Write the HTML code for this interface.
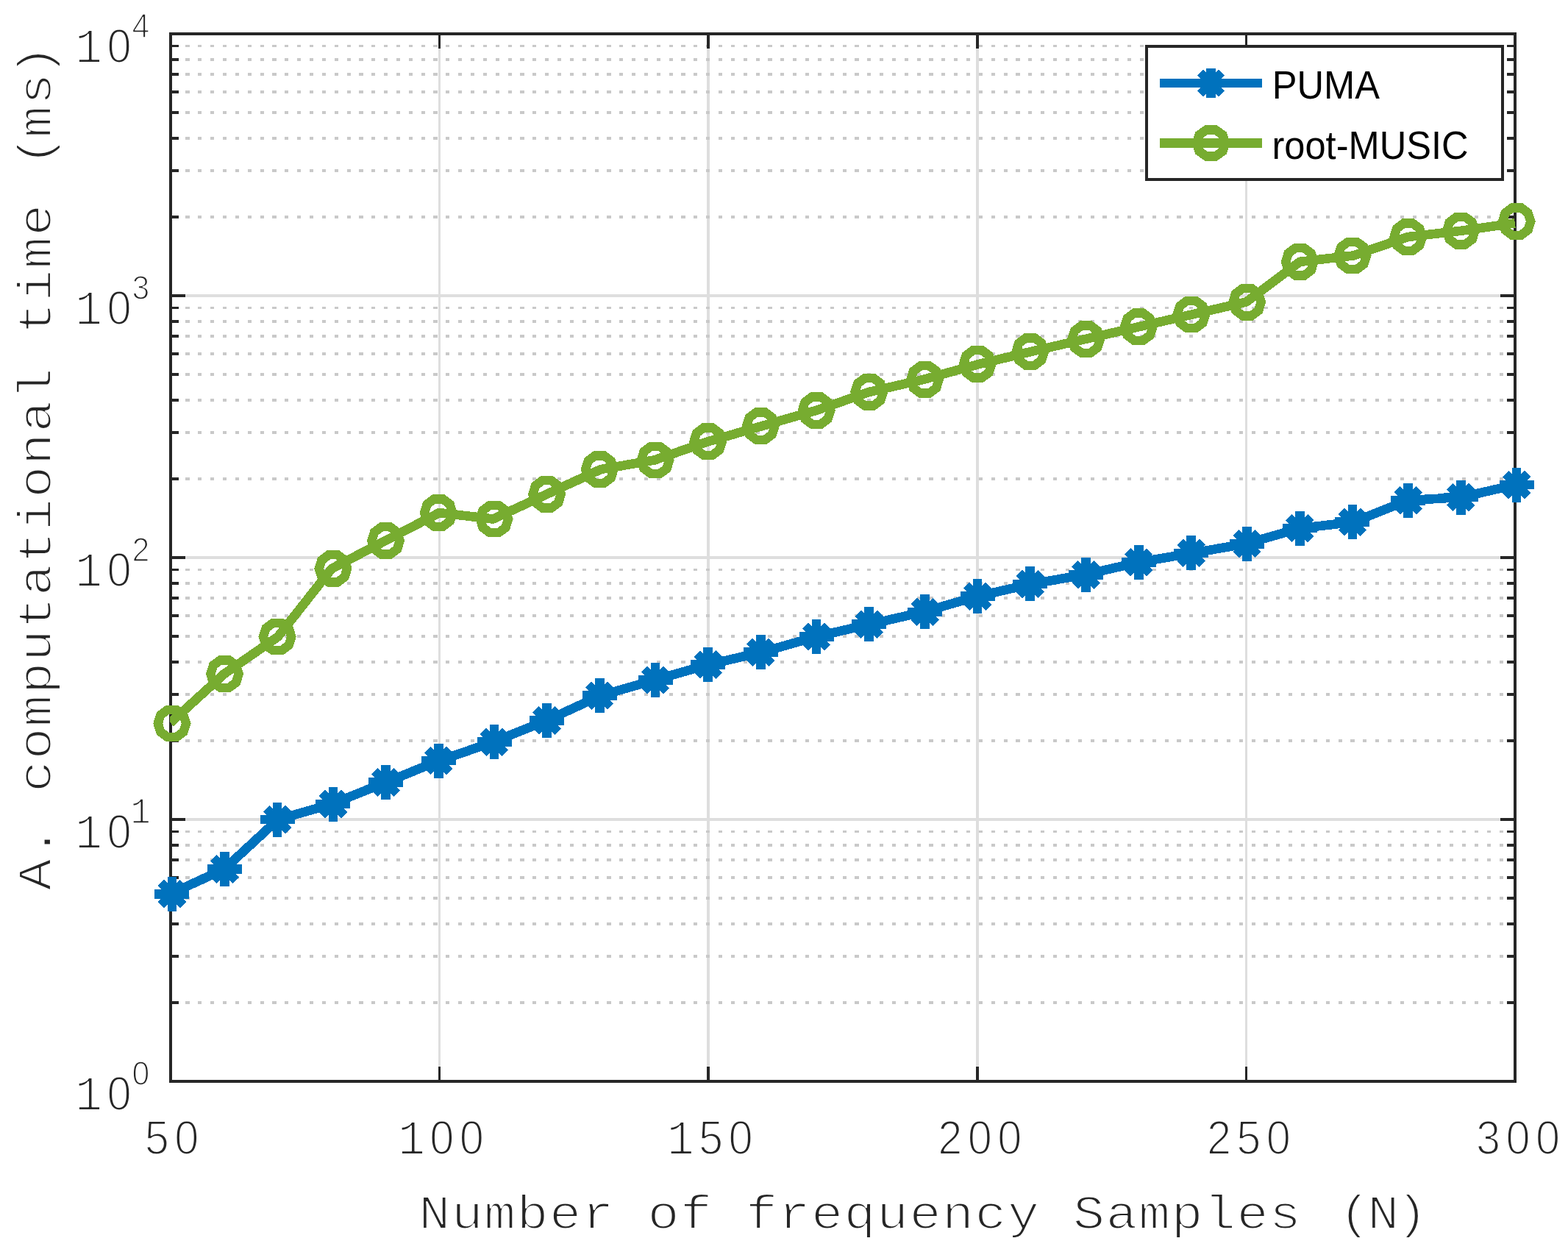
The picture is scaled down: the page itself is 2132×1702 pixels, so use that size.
<!DOCTYPE html>
<html lang="en"><head><meta charset="utf-8"><title>Computational time vs number of frequency samples</title>
<style>
html,body{margin:0;padding:0;background:#fff}
body{width:2132px;height:1702px;overflow:hidden}
svg{display:block}
.lab{fill:#262626;stroke:#fff;stroke-linejoin:round}
.m{font-family:"Liberation Mono","DejaVu Sans Mono",monospace}
.s{font-family:"Liberation Sans","DejaVu Sans",sans-serif}
.leg{font-family:"Liberation Sans","DejaVu Sans",sans-serif;fill:#000}
</style></head><body>
<svg width="2132" height="1702" viewBox="0 0 2132 1702">
<rect width="2132" height="1702" fill="#fff"/>
<g fill="#DEDEDE" shape-rendering="crispEdges">
<rect x="234" y="1112" width="1824" height="4"/>
<rect x="234" y="756" width="1824" height="4"/>
<rect x="234" y="400" width="1824" height="4"/>
<rect x="596" y="48" width="3" height="1420"/>
<rect x="961" y="48" width="4" height="1420"/>
<rect x="1327" y="48" width="4" height="1420"/>
<rect x="1693" y="48" width="3" height="1420"/>
</g>
<g stroke="#C9C9C9" stroke-width="3.8" stroke-dasharray="5.15 11.7" fill="none" shape-rendering="crispEdges">
<line x1="235.6" y1="1363.03" x2="2058" y2="1363.03"/>
<line x1="235.6" y1="1300.34" x2="2058" y2="1300.34"/>
<line x1="235.6" y1="1255.87" x2="2058" y2="1255.87"/>
<line x1="235.6" y1="1221.37" x2="2058" y2="1221.37"/>
<line x1="235.6" y1="1193.18" x2="2058" y2="1193.18"/>
<line x1="235.6" y1="1169.35" x2="2058" y2="1169.35"/>
<line x1="235.6" y1="1148.70" x2="2058" y2="1148.70"/>
<line x1="235.6" y1="1130.49" x2="2058" y2="1130.49"/>
<line x1="235.6" y1="1007.03" x2="2058" y2="1007.03"/>
<line x1="235.6" y1="944.34" x2="2058" y2="944.34"/>
<line x1="235.6" y1="899.87" x2="2058" y2="899.87"/>
<line x1="235.6" y1="865.37" x2="2058" y2="865.37"/>
<line x1="235.6" y1="837.18" x2="2058" y2="837.18"/>
<line x1="235.6" y1="813.35" x2="2058" y2="813.35"/>
<line x1="235.6" y1="792.70" x2="2058" y2="792.70"/>
<line x1="235.6" y1="774.49" x2="2058" y2="774.49"/>
<line x1="235.6" y1="651.03" x2="2058" y2="651.03"/>
<line x1="235.6" y1="588.34" x2="2058" y2="588.34"/>
<line x1="235.6" y1="543.87" x2="2058" y2="543.87"/>
<line x1="235.6" y1="509.37" x2="2058" y2="509.37"/>
<line x1="235.6" y1="481.18" x2="2058" y2="481.18"/>
<line x1="235.6" y1="457.35" x2="2058" y2="457.35"/>
<line x1="235.6" y1="436.70" x2="2058" y2="436.70"/>
<line x1="235.6" y1="418.49" x2="2058" y2="418.49"/>
<line x1="235.6" y1="295.03" x2="2058" y2="295.03"/>
<line x1="235.6" y1="232.34" x2="2058" y2="232.34"/>
<line x1="235.6" y1="187.87" x2="2058" y2="187.87"/>
<line x1="235.6" y1="153.37" x2="2058" y2="153.37"/>
<line x1="235.6" y1="125.18" x2="2058" y2="125.18"/>
<line x1="235.6" y1="101.35" x2="2058" y2="101.35"/>
<line x1="235.6" y1="80.70" x2="2058" y2="80.70"/>
<line x1="235.6" y1="62.49" x2="2058" y2="62.49"/>
</g>
<g fill="#262626" shape-rendering="crispEdges">
<rect x="596" y="1450" width="3" height="18"/>
<rect x="596" y="48" width="3" height="18"/>
<rect x="961" y="1450" width="4" height="18"/>
<rect x="961" y="48" width="4" height="18"/>
<rect x="1327" y="1450" width="4" height="18"/>
<rect x="1327" y="48" width="4" height="18"/>
<rect x="1693" y="1450" width="3" height="18"/>
<rect x="1693" y="48" width="3" height="18"/>
<rect x="234" y="1361" width="9" height="4"/>
<rect x="2049" y="1361" width="9" height="4"/>
<rect x="234" y="1298" width="9" height="4"/>
<rect x="2049" y="1298" width="9" height="4"/>
<rect x="234" y="1254" width="9" height="4"/>
<rect x="2049" y="1254" width="9" height="4"/>
<rect x="234" y="1219" width="9" height="4"/>
<rect x="2049" y="1219" width="9" height="4"/>
<rect x="234" y="1191" width="9" height="4"/>
<rect x="2049" y="1191" width="9" height="4"/>
<rect x="234" y="1167" width="9" height="4"/>
<rect x="2049" y="1167" width="9" height="4"/>
<rect x="234" y="1147" width="9" height="4"/>
<rect x="2049" y="1147" width="9" height="4"/>
<rect x="234" y="1129" width="9" height="3"/>
<rect x="2049" y="1129" width="9" height="3"/>
<rect x="234" y="1112" width="18" height="4"/>
<rect x="2040" y="1112" width="18" height="4"/>
<rect x="234" y="1005" width="9" height="4"/>
<rect x="2049" y="1005" width="9" height="4"/>
<rect x="234" y="942" width="9" height="4"/>
<rect x="2049" y="942" width="9" height="4"/>
<rect x="234" y="898" width="9" height="4"/>
<rect x="2049" y="898" width="9" height="4"/>
<rect x="234" y="863" width="9" height="4"/>
<rect x="2049" y="863" width="9" height="4"/>
<rect x="234" y="835" width="9" height="4"/>
<rect x="2049" y="835" width="9" height="4"/>
<rect x="234" y="811" width="9" height="4"/>
<rect x="2049" y="811" width="9" height="4"/>
<rect x="234" y="791" width="9" height="4"/>
<rect x="2049" y="791" width="9" height="4"/>
<rect x="234" y="773" width="9" height="3"/>
<rect x="2049" y="773" width="9" height="3"/>
<rect x="234" y="756" width="18" height="4"/>
<rect x="2040" y="756" width="18" height="4"/>
<rect x="234" y="649" width="9" height="4"/>
<rect x="2049" y="649" width="9" height="4"/>
<rect x="234" y="586" width="9" height="4"/>
<rect x="2049" y="586" width="9" height="4"/>
<rect x="234" y="542" width="9" height="4"/>
<rect x="2049" y="542" width="9" height="4"/>
<rect x="234" y="507" width="9" height="4"/>
<rect x="2049" y="507" width="9" height="4"/>
<rect x="234" y="479" width="9" height="4"/>
<rect x="2049" y="479" width="9" height="4"/>
<rect x="234" y="455" width="9" height="4"/>
<rect x="2049" y="455" width="9" height="4"/>
<rect x="234" y="435" width="9" height="4"/>
<rect x="2049" y="435" width="9" height="4"/>
<rect x="234" y="417" width="9" height="3"/>
<rect x="2049" y="417" width="9" height="3"/>
<rect x="234" y="400" width="18" height="4"/>
<rect x="2040" y="400" width="18" height="4"/>
<rect x="234" y="293" width="9" height="4"/>
<rect x="2049" y="293" width="9" height="4"/>
<rect x="234" y="230" width="9" height="4"/>
<rect x="2049" y="230" width="9" height="4"/>
<rect x="234" y="186" width="9" height="4"/>
<rect x="2049" y="186" width="9" height="4"/>
<rect x="234" y="151" width="9" height="4"/>
<rect x="2049" y="151" width="9" height="4"/>
<rect x="234" y="123" width="9" height="4"/>
<rect x="2049" y="123" width="9" height="4"/>
<rect x="234" y="99" width="9" height="4"/>
<rect x="2049" y="99" width="9" height="4"/>
<rect x="234" y="79" width="9" height="4"/>
<rect x="2049" y="79" width="9" height="4"/>
<rect x="234" y="61" width="9" height="3"/>
<rect x="2049" y="61" width="9" height="3"/>
</g>
<rect x="232" y="46" width="1828" height="1424" fill="none" stroke="#262626" stroke-width="4" shape-rendering="crispEdges"/>
<clipPath id="axclip"><rect x="231" y="46" width="1830" height="1424"/></clipPath>
<g shape-rendering="crispEdges">
<polyline points="231.70,1215.20 304.83,1181.50 377.96,1114.10 451.08,1093.04 524.21,1063.55 597.34,1034.06 670.47,1008.79 743.60,979.30 816.72,945.60 889.85,924.54 962.98,903.48 1036.11,886.63 1109.24,865.56 1182.36,848.71 1255.49,831.86 1328.62,810.80 1401.75,793.95 1474.88,781.31 1548.00,764.46 1621.13,751.83 1694.26,739.19 1767.39,718.13 1840.52,709.70 1913.64,680.21 1986.77,676.00 2059.90,659.15" fill="none" stroke="#0072BD" stroke-width="12.64" stroke-linejoin="round" stroke-linecap="butt" clip-path="url(#axclip)"/>
<g stroke="#0072BD" fill="none" stroke-linecap="butt">
<path d="M210.40 1215.20H257.40M233.90 1191.70V1238.70" stroke-width="12.64"/><path d="M218.84 1200.14L248.96 1230.26M218.84 1230.26L248.96 1200.14" stroke-width="11.80"/>
<path d="M282.01 1181.50H329.01M305.51 1158.00V1205.00" stroke-width="12.64"/><path d="M290.45 1166.44L320.57 1196.56M290.45 1196.56L320.57 1166.44" stroke-width="11.80"/>
<path d="M353.62 1114.10H400.62M377.12 1090.60V1137.60" stroke-width="12.64"/><path d="M362.06 1099.04L392.19 1129.16M362.06 1129.16L392.19 1099.04" stroke-width="11.80"/>
<path d="M429.45 1093.04H476.45M452.95 1069.54V1116.54" stroke-width="12.64"/><path d="M437.89 1077.98L468.01 1108.10M437.89 1108.10L468.01 1077.98" stroke-width="11.80"/>
<path d="M501.06 1063.55H548.06M524.56 1040.05V1087.05" stroke-width="12.64"/><path d="M509.50 1048.49L539.62 1078.61M509.50 1078.61L539.62 1048.49" stroke-width="11.80"/>
<path d="M572.68 1034.06H619.68M596.18 1010.56V1057.56" stroke-width="12.64"/><path d="M581.11 1019.00L611.24 1049.12M581.11 1049.12L611.24 1019.00" stroke-width="11.80"/>
<path d="M648.50 1008.79H695.50M672.00 985.29V1032.29" stroke-width="12.64"/><path d="M656.94 993.73L687.06 1023.85M656.94 1023.85L687.06 993.73" stroke-width="11.80"/>
<path d="M720.11 979.30H767.11M743.61 955.80V1002.80" stroke-width="12.64"/><path d="M728.55 964.24L758.67 994.36M728.55 994.36L758.67 964.24" stroke-width="11.80"/>
<path d="M791.73 945.60H838.73M815.23 922.10V969.10" stroke-width="12.64"/><path d="M800.16 930.54L830.29 960.66M800.16 960.66L830.29 930.54" stroke-width="11.80"/>
<path d="M867.55 924.54H914.55M891.05 901.04V948.04" stroke-width="12.64"/><path d="M875.99 909.48L906.11 939.60M875.99 939.60L906.11 909.48" stroke-width="11.80"/>
<path d="M939.16 903.48H986.16M962.66 879.98V926.98" stroke-width="12.64"/><path d="M947.60 888.41L977.72 918.54M947.60 918.54L977.72 888.41" stroke-width="11.80"/>
<path d="M1010.78 886.63H1057.78M1034.28 863.13V910.13" stroke-width="12.64"/><path d="M1019.21 871.56L1049.34 901.69M1019.21 901.69L1049.34 871.56" stroke-width="11.80"/>
<path d="M1086.60 865.56H1133.60M1110.10 842.06V889.06" stroke-width="12.64"/><path d="M1095.04 850.50L1125.16 880.62M1095.04 880.62L1125.16 850.50" stroke-width="11.80"/>
<path d="M1158.21 848.71H1205.21M1181.71 825.21V872.21" stroke-width="12.64"/><path d="M1166.65 833.65L1196.77 863.77M1166.65 863.77L1196.77 833.65" stroke-width="11.80"/>
<path d="M1234.04 831.86H1281.04M1257.54 808.36V855.36" stroke-width="12.64"/><path d="M1242.48 816.80L1272.60 846.92M1242.48 846.92L1272.60 816.80" stroke-width="11.80"/>
<path d="M1305.65 810.80H1352.65M1329.15 787.30V834.30" stroke-width="12.64"/><path d="M1314.09 795.74L1344.21 825.86M1314.09 825.86L1344.21 795.74" stroke-width="11.80"/>
<path d="M1377.26 793.95H1424.26M1400.76 770.45V817.45" stroke-width="12.64"/><path d="M1385.70 778.89L1415.82 809.01M1385.70 809.01L1415.82 778.89" stroke-width="11.80"/>
<path d="M1453.09 781.31H1500.09M1476.59 757.81V804.81" stroke-width="12.64"/><path d="M1461.53 766.25L1491.65 796.37M1461.53 796.37L1491.65 766.25" stroke-width="11.80"/>
<path d="M1524.70 764.46H1571.70M1548.20 740.96V787.96" stroke-width="12.64"/><path d="M1533.14 749.40L1563.26 779.52M1533.14 779.52L1563.26 749.40" stroke-width="11.80"/>
<path d="M1596.31 751.83H1643.31M1619.81 728.33V775.33" stroke-width="12.64"/><path d="M1604.75 736.76L1634.87 766.89M1604.75 766.89L1634.87 736.76" stroke-width="11.80"/>
<path d="M1672.14 739.19H1719.14M1695.64 715.69V762.69" stroke-width="12.64"/><path d="M1680.58 724.13L1710.70 754.25M1680.58 754.25L1710.70 724.13" stroke-width="11.80"/>
<path d="M1743.75 718.13H1790.75M1767.25 694.63V741.63" stroke-width="12.64"/><path d="M1752.19 703.06L1782.31 733.19M1752.19 733.19L1782.31 703.06" stroke-width="11.80"/>
<path d="M1815.36 709.70H1862.36M1838.86 686.20V733.20" stroke-width="12.64"/><path d="M1823.80 694.64L1853.92 724.76M1823.80 724.76L1853.92 694.64" stroke-width="11.80"/>
<path d="M1891.19 680.21H1938.19M1914.69 656.71V703.71" stroke-width="12.64"/><path d="M1899.63 665.15L1929.75 695.27M1899.63 695.27L1929.75 665.15" stroke-width="11.80"/>
<path d="M1962.80 676.00H2009.80M1986.30 652.50V699.50" stroke-width="12.64"/><path d="M1971.24 660.94L2001.36 691.06M1971.24 691.06L2001.36 660.94" stroke-width="11.80"/>
<path d="M2038.62 659.15H2085.62M2062.12 635.65V682.65" stroke-width="12.64"/><path d="M2047.06 644.09L2077.19 674.21M2047.06 674.21L2077.19 644.09" stroke-width="11.80"/>
</g>
<polyline points="231.70,982.51 304.83,916.11 377.96,865.56 451.08,772.89 524.21,734.98 597.34,697.06 670.47,705.49 743.60,671.79 816.72,638.09 889.85,625.45 962.98,600.18 1036.11,579.11 1109.24,558.05 1182.36,532.78 1255.49,515.93 1328.62,495.66 1401.75,478.01 1474.88,461.16 1548.00,444.31 1621.13,427.46 1694.26,410.61 1767.39,355.85 1840.52,347.43 1913.64,322.15 1986.77,313.73 2059.90,303.29" fill="none" stroke="#77AC30" stroke-width="12.64" stroke-linejoin="round" stroke-linecap="butt" clip-path="url(#axclip)"/>
<g stroke="#77AC30" fill="none" stroke-linejoin="miter">
<polygon points="253.07,983.51 249.41,995.07 239.82,1002.21 227.98,1002.21 218.39,995.07 214.73,983.51 218.39,971.96 227.98,964.81 239.82,964.81 249.41,971.96" stroke-width="12.40"/>
<polygon points="324.68,916.11 321.02,927.67 311.44,934.81 299.59,934.81 290.00,927.67 286.34,916.11 290.00,904.56 299.59,897.41 311.44,897.41 321.02,904.56" stroke-width="12.40"/>
<polygon points="396.29,865.56 392.63,877.12 383.05,884.26 371.20,884.26 361.62,877.12 357.96,865.56 361.62,854.01 371.20,846.86 383.05,846.86 392.63,854.01" stroke-width="12.40"/>
<polygon points="472.12,772.89 468.46,784.44 458.87,791.59 447.03,791.59 437.44,784.44 433.78,772.89 437.44,761.33 447.03,754.19 458.87,754.19 468.46,761.33" stroke-width="12.40"/>
<polygon points="543.73,734.98 540.07,746.53 530.49,753.67 518.64,753.67 509.05,746.53 505.39,734.98 509.05,723.42 518.64,716.28 530.49,716.28 540.07,723.42" stroke-width="12.40"/>
<polygon points="615.34,697.06 611.68,708.62 602.10,715.76 590.25,715.76 580.67,708.62 577.01,697.06 580.67,685.51 590.25,678.36 602.10,678.36 611.68,685.51" stroke-width="12.40"/>
<polygon points="691.17,705.49 687.51,717.04 677.92,724.19 666.08,724.19 656.49,717.04 652.83,705.49 656.49,693.93 666.08,686.79 677.92,686.79 687.51,693.93" stroke-width="12.40"/>
<polygon points="762.78,671.79 759.12,683.34 749.54,690.49 737.69,690.49 728.10,683.34 724.44,671.79 728.10,660.23 737.69,653.09 749.54,653.09 759.12,660.23" stroke-width="12.40"/>
<polygon points="834.39,638.09 830.73,649.64 821.15,656.79 809.30,656.79 799.72,649.64 796.06,638.09 799.72,626.53 809.30,619.39 821.15,619.39 830.73,626.53" stroke-width="12.40"/>
<polygon points="910.22,625.45 906.56,637.01 896.97,644.15 885.13,644.15 875.54,637.01 871.88,625.45 875.54,613.89 885.13,606.75 896.97,606.75 906.56,613.89" stroke-width="12.40"/>
<polygon points="981.83,600.18 978.17,611.73 968.59,618.87 956.74,618.87 947.15,611.73 943.49,600.18 947.15,588.62 956.74,581.48 968.59,581.48 978.17,588.62" stroke-width="12.40"/>
<polygon points="1053.44,579.11 1049.78,590.67 1040.20,597.81 1028.35,597.81 1018.77,590.67 1015.11,579.11 1018.77,567.56 1028.35,560.41 1040.20,560.41 1049.78,567.56" stroke-width="12.40"/>
<polygon points="1129.27,558.05 1125.61,569.61 1116.02,576.75 1104.18,576.75 1094.59,569.61 1090.93,558.05 1094.59,546.49 1104.18,539.35 1116.02,539.35 1125.61,546.49" stroke-width="12.40"/>
<polygon points="1200.88,532.78 1197.22,544.33 1187.64,551.47 1175.79,551.47 1166.20,544.33 1162.54,532.78 1166.20,521.22 1175.79,514.08 1187.64,514.08 1197.22,521.22" stroke-width="12.40"/>
<polygon points="1276.71,515.93 1273.05,527.48 1263.46,534.62 1251.61,534.62 1242.03,527.48 1238.37,515.93 1242.03,504.37 1251.61,497.23 1263.46,497.23 1273.05,504.37" stroke-width="12.40"/>
<polygon points="1348.32,494.86 1344.66,506.42 1335.07,513.56 1323.23,513.56 1313.64,506.42 1309.98,494.86 1313.64,483.31 1323.23,476.16 1335.07,476.16 1344.66,483.31" stroke-width="12.40"/>
<polygon points="1419.93,478.01 1416.27,489.57 1406.69,496.71 1394.84,496.71 1385.25,489.57 1381.59,478.01 1385.25,466.46 1394.84,459.31 1406.69,459.31 1416.27,466.46" stroke-width="12.40"/>
<polygon points="1495.76,461.16 1492.10,472.72 1482.51,479.86 1470.66,479.86 1461.08,472.72 1457.42,461.16 1461.08,449.61 1470.66,442.46 1482.51,442.46 1492.10,449.61" stroke-width="12.40"/>
<polygon points="1567.37,444.31 1563.71,455.87 1554.12,463.01 1542.28,463.01 1532.69,455.87 1529.03,444.31 1532.69,432.76 1542.28,425.61 1554.12,425.61 1563.71,432.76" stroke-width="12.40"/>
<polygon points="1638.98,427.46 1635.32,439.02 1625.74,446.16 1613.89,446.16 1604.30,439.02 1600.64,427.46 1604.30,415.91 1613.89,408.76 1625.74,408.76 1635.32,415.91" stroke-width="12.40"/>
<polygon points="1714.81,410.61 1711.15,422.17 1701.56,429.31 1689.71,429.31 1680.13,422.17 1676.47,410.61 1680.13,399.06 1689.71,391.91 1701.56,391.91 1711.15,399.06" stroke-width="12.40"/>
<polygon points="1786.42,355.85 1782.76,367.41 1773.17,374.55 1761.33,374.55 1751.74,367.41 1748.08,355.85 1751.74,344.29 1761.33,337.15 1773.17,337.15 1782.76,344.29" stroke-width="12.40"/>
<polygon points="1858.03,347.43 1854.37,358.98 1844.79,366.12 1832.94,366.12 1823.35,358.98 1819.69,347.43 1823.35,335.87 1832.94,328.73 1844.79,328.73 1854.37,335.87" stroke-width="12.40"/>
<polygon points="1933.86,322.15 1930.20,333.71 1920.61,340.85 1908.76,340.85 1899.18,333.71 1895.52,322.15 1899.18,310.59 1908.76,303.45 1920.61,303.45 1930.20,310.59" stroke-width="12.40"/>
<polygon points="2005.47,313.73 2001.81,325.28 1992.22,332.42 1980.38,332.42 1970.79,325.28 1967.13,313.73 1970.79,302.17 1980.38,295.03 1992.22,295.03 2001.81,302.17" stroke-width="12.40"/>
<polygon points="2081.29,301.09 2077.63,312.64 2068.05,319.79 2056.20,319.79 2046.62,312.64 2042.96,301.09 2046.62,289.53 2056.20,282.39 2068.05,282.39 2077.63,289.53" stroke-width="12.40"/>
</g>
<rect x="1559" y="63" width="484" height="181" fill="#fff" stroke="#262626" stroke-width="4"/>
<line x1="1577" y1="113" x2="1716" y2="113" stroke="#0072BD" stroke-width="12"/>
<g stroke="#0072BD" fill="none"><path d="M1626.50 113.00H1666.50M1646.50 93.00V133.00" stroke-width="12.60"/><path d="M1632.22 98.72L1660.78 127.28M1632.22 127.28L1660.78 98.72" stroke-width="12.00"/></g>
<line x1="1577" y1="194.5" x2="1716" y2="194.5" stroke="#77AC30" stroke-width="13"/>
<g stroke="#77AC30" fill="none" transform="translate(1646.5 194.5) scale(1.035 1)"><polygon points="19.00,0.00 15.37,11.17 5.87,18.07 -5.87,18.07 -15.37,11.17 -19.00,0.00 -15.37,-11.17 -5.87,-18.07 5.87,-18.07 15.37,-11.17" stroke-width="12.20"/></g>
</g>
<text class="leg" transform="translate(1729.8 134.2) scale(0.951 1)" font-size="53.2">PUMA</text>
<text class="leg" transform="translate(1729.5 216.1) scale(0.951 1)" font-size="53.2">root-MUSIC</text>
<text class="lab" text-anchor="middle" transform="scale(0.92 1)"><tspan class="s" x="231.9" y="1568.8" font-size="64.8" stroke-width="2.1">5</tspan><tspan class="s" x="275.9" y="1568.8" font-size="64.8" stroke-width="2.1">0</tspan></text>
<text class="lab" text-anchor="middle" transform="scale(0.92 1)"><tspan class="m" x="608.3" y="1568.8" font-size="66.6" stroke-width="2.1">1</tspan><tspan class="s" x="653.2" y="1568.8" font-size="64.8" stroke-width="2.1">0</tspan><tspan class="s" x="697.1" y="1568.8" font-size="64.8" stroke-width="2.1">0</tspan></text>
<text class="lab" text-anchor="middle" transform="scale(0.92 1)"><tspan class="m" x="1005.8" y="1568.8" font-size="66.6" stroke-width="2.1">1</tspan><tspan class="s" x="1050.7" y="1568.8" font-size="64.8" stroke-width="2.1">5</tspan><tspan class="s" x="1094.6" y="1568.8" font-size="64.8" stroke-width="2.1">0</tspan></text>
<text class="lab" text-anchor="middle" transform="scale(0.92 1)"><tspan class="s" x="1404.2" y="1568.8" font-size="64.8" stroke-width="2.1">2</tspan><tspan class="s" x="1448.2" y="1568.8" font-size="64.8" stroke-width="2.1">0</tspan><tspan class="s" x="1492.1" y="1568.8" font-size="64.8" stroke-width="2.1">0</tspan></text>
<text class="lab" text-anchor="middle" transform="scale(0.92 1)"><tspan class="s" x="1801.6" y="1568.8" font-size="64.8" stroke-width="2.1">2</tspan><tspan class="s" x="1845.5" y="1568.8" font-size="64.8" stroke-width="2.1">5</tspan><tspan class="s" x="1889.5" y="1568.8" font-size="64.8" stroke-width="2.1">0</tspan></text>
<text class="lab" text-anchor="middle" transform="scale(0.92 1)"><tspan class="s" x="2199.6" y="1568.8" font-size="64.8" stroke-width="2.1">3</tspan><tspan class="s" x="2243.6" y="1568.8" font-size="64.8" stroke-width="2.1">0</tspan><tspan class="s" x="2287.6" y="1568.8" font-size="64.8" stroke-width="2.1">0</tspan></text>
<text class="lab" text-anchor="middle" transform="scale(0.92 1)"><tspan class="m" x="131.2" y="1509.5" font-size="66.6" stroke-width="2.1">1</tspan><tspan class="s" x="176.1" y="1509.5" font-size="64.8" stroke-width="2.1">0</tspan></text>
<text class="lab" text-anchor="middle" transform="scale(0.92 1)"><tspan class="s" x="208.0" y="1475.0" font-size="46.6" stroke-width="1.6">0</tspan></text>
<text class="lab" text-anchor="middle" transform="scale(0.92 1)"><tspan class="m" x="131.2" y="1153.5" font-size="66.6" stroke-width="2.1">1</tspan><tspan class="s" x="176.1" y="1153.5" font-size="64.8" stroke-width="2.1">0</tspan></text>
<text class="lab" text-anchor="middle" transform="scale(0.92 1)"><tspan class="m" x="207.6" y="1119.0" font-size="49.3" stroke-width="1.6">1</tspan></text>
<text class="lab" text-anchor="middle" transform="scale(0.92 1)"><tspan class="m" x="131.2" y="797.4" font-size="66.6" stroke-width="2.1">1</tspan><tspan class="s" x="176.1" y="797.4" font-size="64.8" stroke-width="2.1">0</tspan></text>
<text class="lab" text-anchor="middle" transform="scale(0.92 1)"><tspan class="s" x="208.0" y="763.0" font-size="46.6" stroke-width="1.6">2</tspan></text>
<text class="lab" text-anchor="middle" transform="scale(0.92 1)"><tspan class="m" x="131.2" y="441.4" font-size="66.6" stroke-width="2.1">1</tspan><tspan class="s" x="176.1" y="441.4" font-size="64.8" stroke-width="2.1">0</tspan></text>
<text class="lab" text-anchor="middle" transform="scale(0.92 1)"><tspan class="s" x="208.0" y="407.0" font-size="46.6" stroke-width="1.6">3</tspan></text>
<text class="lab" text-anchor="middle" transform="scale(0.92 1)"><tspan class="m" x="131.2" y="85.5" font-size="66.6" stroke-width="2.1">1</tspan><tspan class="s" x="176.1" y="85.5" font-size="64.8" stroke-width="2.1">0</tspan></text>
<text class="lab" text-anchor="middle" transform="scale(0.92 1)"><tspan class="s" x="208.0" y="51.0" font-size="46.6" stroke-width="1.6">4</tspan></text>
<text class="lab m" transform="translate(569.14 1669.55) scale(1.10 1)" font-size="65.3" letter-spacing="1.26" stroke-width="2.1" dx="0 0 0 0 0 0 0 0 0 0 0 0 0 0 0 0 0 0 0 0 0 0 0 0 0 0 0 0 5.2 -5.2 -5.2">Number of frequency Samples (N)</text>
<text class="lab m" transform="translate(69.45 1210.56) rotate(-90) scale(1.10 1)" font-size="65.3" letter-spacing="1.26" stroke-width="2.1" dx="0 0 0 0 0 0 0 0 0 0 0 0 0 0 0 0 0 0 0 0 0 0 5.2 -5.2 0 -5.2">A. computational time (ms)</text>
</svg></body></html>
